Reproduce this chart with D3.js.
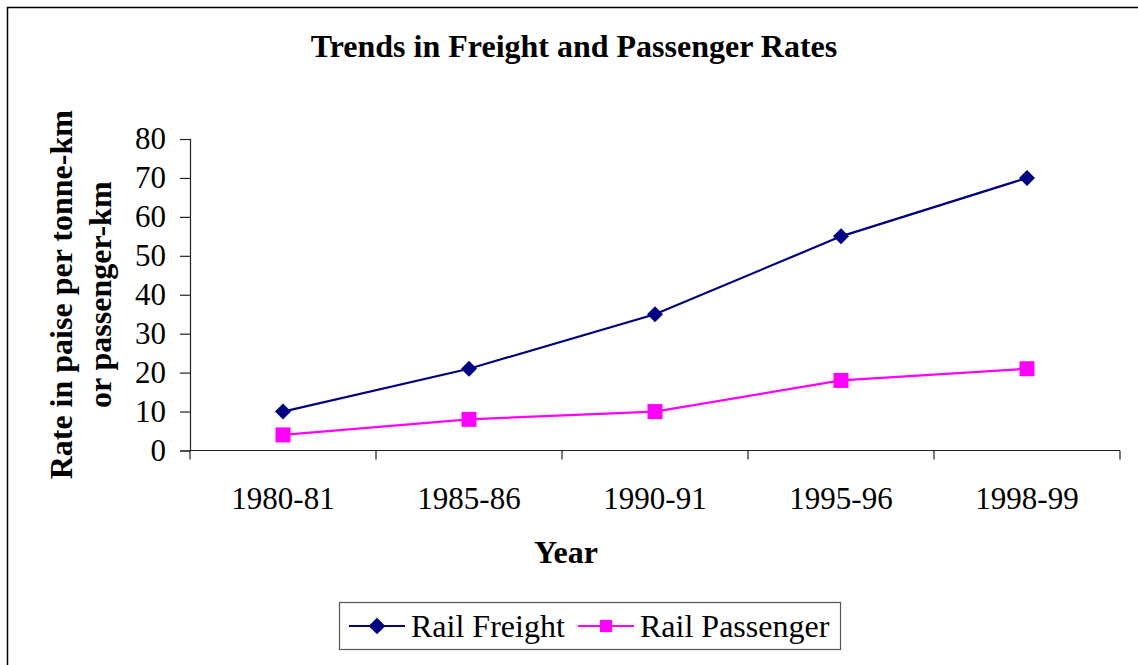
<!DOCTYPE html>
<html lang="en">
<head>
  <meta charset="UTF-8">
  <title>Trends in Freight and Passenger Rates</title>
  <script src="https://d3js.org/d3.v7.min.js"></script>
  <style>
    body {
      margin: 0;
      background: white;
    }
    svg {
      font-family: "Liberation Serif", "Times New Roman", serif;
      display: block;
    }
  </style>
</head>
<body>
  <svg></svg>
  <script>
    const years = ['1980-81', '1985-86', '1990-91', '1995-96', '1998-99'];
    const freight = [10, 21, 35, 55, 70];
    const passenger = [4, 8, 10, 18, 21];
    const yTicks = [0, 10, 20, 30, 40, 50, 60, 70, 80];

    // diamond = square turned 45 degrees
    const series = [
      { name: 'Rail Freight', values: freight, color: '#000080', size: 128, legendSize: 140, rotate: 45 },
      { name: 'Rail Passenger', values: passenger, color: '#ff00ff', size: 225, legendSize: 150, rotate: 0 }
    ];

    const W = 1138, H = 665;
    const plot = { left: 190, right: 1120, top: 139, bottom: 450.5 };

    const svg = d3.select('svg')
      .attr('width', W)
      .attr('height', H);

    // outer chart frame (right/bottom edges fall outside the picture)
    svg.append('rect')
      .attr('x', 7.5)
      .attr('y', 7.5)
      .attr('width', 1300)
      .attr('height', 900)
      .attr('fill', 'none')
      .attr('stroke', '#000')
      .attr('stroke-width', 1.5);

    const x = d3.scaleBand()
      .domain(years)
      .range([plot.left, plot.right]);

    const y = d3.scaleLinear()
      .domain([0, 80])
      .range([plot.bottom, plot.top]);

    // y axis
    svg.append('g')
      .attr('transform', `translate(${plot.left},0)`)
      .call(d3.axisLeft(y).tickValues(yTicks).tickSize(10).tickPadding(14))
      .attr('font-family', null)
      .attr('font-size', null)
      .call(g => g.select('.domain').attr('stroke', '#222').attr('stroke-width', 1.2))
      .call(g => g.selectAll('.tick line').attr('stroke', '#222').attr('stroke-width', 1.2))
      .call(g => g.selectAll('.tick text')
        .attr('fill', '#000')
        .style('font-size', '31px'));

    // x axis (labels centred in bands, ticks on band edges)
    const xAxis = svg.append('g')
      .attr('transform', `translate(0,${plot.bottom})`)
      .call(d3.axisBottom(x).tickSize(0).tickPadding(36))
      .attr('font-family', null)
      .attr('font-size', null)
      .call(g => g.select('.domain').remove())
      .call(g => g.selectAll('.tick text')
        .attr('fill', '#000')
        .style('font-size', '31px'));

    xAxis.append('line')
      .attr('x1', plot.left)
      .attr('x2', plot.right)
      .attr('stroke', '#222')
      .attr('stroke-width', 1.2);

    xAxis.selectAll('.edge')
      .data(years.map(d => x(d)).concat([plot.right]))
      .enter()
      .append('line')
      .attr('class', 'edge')
      .attr('x1', d => d)
      .attr('x2', d => d)
      .attr('y1', 0)
      .attr('y2', 9)
      .attr('stroke', '#222')
      .attr('stroke-width', 1.2);

    const cx = d => x(d) + x.bandwidth() / 2;

    const line = d3.line()
      .x((v, i) => cx(years[i]))
      .y(v => y(v));

    series.forEach(s => {
      svg.append('path')
        .datum(s.values)
        .attr('fill', 'none')
        .attr('stroke', s.color)
        .attr('stroke-width', 2.2)
        .attr('d', line);

      svg.selectAll(null)
        .data(s.values)
        .enter()
        .append('path')
        .attr('transform', (v, i) => `translate(${cx(years[i])},${y(v)}) rotate(${s.rotate})`)
        .attr('d', d3.symbol().type(d3.symbolSquare).size(s.size))
        .attr('fill', s.color);
    });

    // title
    svg.append('text')
      .attr('x', 574)
      .attr('y', 57)
      .attr('text-anchor', 'middle')
      .style('font-size', '32px')
      .style('font-weight', 'bold')
      .text('Trends in Freight and Passenger Rates');

    // y axis title, two lines
    const yTitle = svg.append('text')
      .attr('transform', `translate(72,${(plot.top + plot.bottom) / 2}) rotate(-90)`)
      .attr('text-anchor', 'middle')
      .style('font-size', '32px')
      .style('font-weight', 'bold');
    yTitle.append('tspan').attr('x', 0).attr('y', 0).text('Rate in paise per tonne-km');
    yTitle.append('tspan').attr('x', 0).attr('y', 39).text('or passenger-km');

    // x axis title
    svg.append('text')
      .attr('x', 566)
      .attr('y', 563)
      .attr('text-anchor', 'middle')
      .style('font-size', '32px')
      .style('font-weight', 'bold')
      .text('Year');

    // legend
    const legend = svg.append('g');
    legend.append('rect')
      .attr('x', 339.5)
      .attr('y', 602.5)
      .attr('width', 501)
      .attr('height', 47)
      .attr('fill', 'white')
      .attr('stroke', '#555')
      .attr('stroke-width', 1.2);

    const legendX = [349, 578];
    series.forEach((s, i) => {
      const g = legend.append('g').attr('transform', `translate(${legendX[i]},626)`);
      g.append('line')
        .attr('x1', 0)
        .attr('x2', 56)
        .attr('stroke', s.color)
        .attr('stroke-width', 2.2);
      g.append('path')
        .attr('transform', `translate(28,0) rotate(${s.rotate})`)
        .attr('d', d3.symbol().type(d3.symbolSquare).size(s.legendSize))
        .attr('fill', s.color);
      g.append('text')
        .attr('x', 62)
        .attr('y', 11)
        .style('font-size', '32px')
        .text(s.name);
    });
  </script>
</body>
</html>
